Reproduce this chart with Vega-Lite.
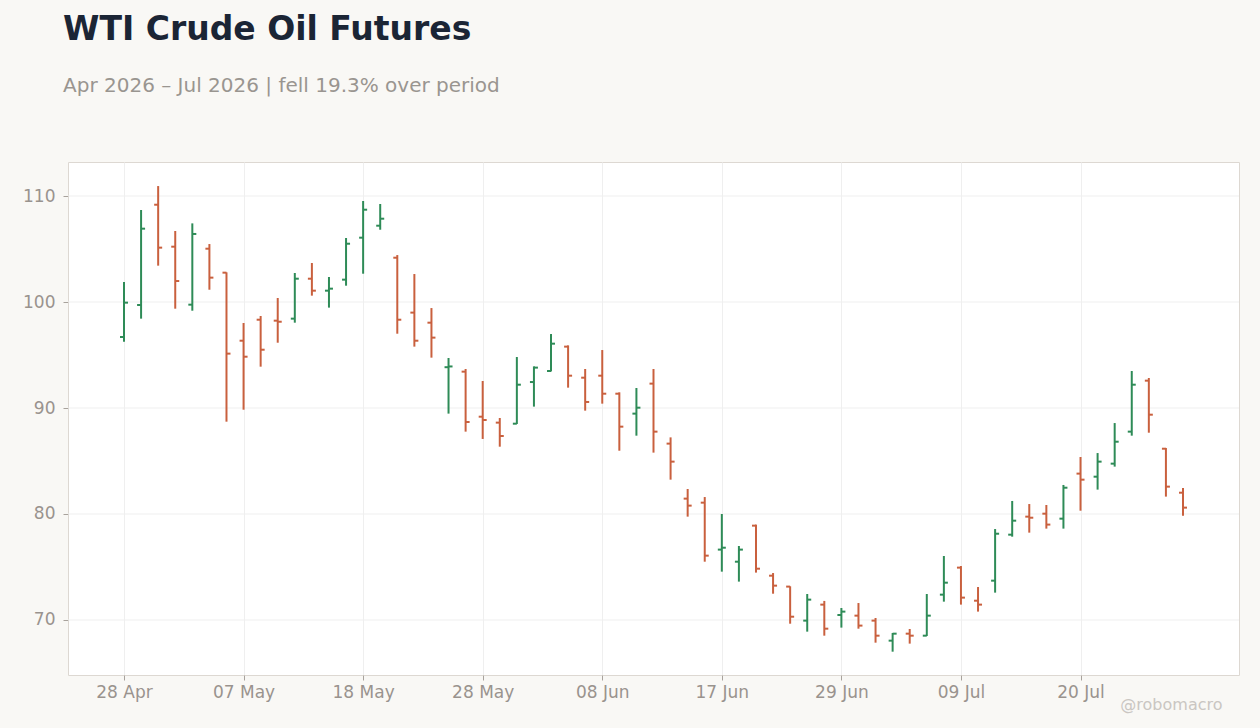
{
  "$schema": "https://vega.github.io/schema/vega-lite/v6.json",
  "width": 1171,
  "height": 513,
  "autosize": {"type": "none"},
  "padding": {"left": 68, "top": 162, "right": 21, "bottom": 53},
  "background": "#f9f8f5",
  "title": {
    "text": "WTI Crude Oil Futures",
    "subtitle": "Apr 2026 – Jul 2026 | fell 19.3% over period",
    "anchor": "start",
    "frame": "group",
    "offset": 66,
    "dx": -5,
    "font": "DejaVu Sans",
    "fontSize": 33,
    "fontWeight": "bold",
    "color": "#1b2535",
    "subtitleFont": "DejaVu Sans",
    "subtitleFontSize": 20,
    "subtitleColor": "#999590",
    "subtitlePadding": 29
  },
  "config": {
    "view": {"fill": "white", "stroke": "#ddd8d2", "strokeWidth": 1},
    "axis": {
      "domain": false,
      "tickColor": "#a8a29c",
      "tickSize": 5,
      "labelColor": "#99938e",
      "labelFont": "DejaVu Sans",
      "labelFontSize": 17,
      "gridColor": "#efefef",
      "gridWidth": 1
    },
    "axisY": {"grid": false}
  },
  "datasets": {
    "ohlc": [
      {"date": "2026-04-28", "open": 96.7, "high": 101.9, "low": 96.26, "close": 99.94},
      {"date": "2026-04-29", "open": 99.72, "high": 108.68, "low": 98.43, "close": 106.92},
      {"date": "2026-04-30", "open": 109.18, "high": 110.94, "low": 103.43, "close": 105.13},
      {"date": "2026-05-01", "open": 105.22, "high": 106.7, "low": 99.37, "close": 101.98},
      {"date": "2026-05-04", "open": 99.75, "high": 107.42, "low": 99.18, "close": 106.42},
      {"date": "2026-05-05", "open": 105.03, "high": 105.47, "low": 101.16, "close": 102.3},
      {"date": "2026-05-06", "open": 102.77, "high": 102.8, "low": 88.71, "close": 95.13},
      {"date": "2026-05-07", "open": 96.35, "high": 98.02, "low": 89.84, "close": 94.84},
      {"date": "2026-05-08", "open": 98.33, "high": 98.68, "low": 93.9, "close": 95.5},
      {"date": "2026-05-11", "open": 98.24, "high": 100.38, "low": 96.16, "close": 98.14},
      {"date": "2026-05-12", "open": 98.43, "high": 102.74, "low": 98.05, "close": 102.2},
      {"date": "2026-05-13", "open": 102.2, "high": 103.68, "low": 100.6, "close": 101.07},
      {"date": "2026-05-14", "open": 101.07, "high": 102.36, "low": 99.47, "close": 101.26},
      {"date": "2026-05-15", "open": 102.11, "high": 106.04, "low": 101.54, "close": 105.5},
      {"date": "2026-05-18", "open": 106.07, "high": 109.53, "low": 102.67, "close": 108.71},
      {"date": "2026-05-19", "open": 107.2, "high": 109.25, "low": 106.82, "close": 107.86},
      {"date": "2026-05-20", "open": 104.18, "high": 104.43, "low": 97.01, "close": 98.33},
      {"date": "2026-05-21", "open": 99.0, "high": 102.64, "low": 95.79, "close": 96.35},
      {"date": "2026-05-22", "open": 98.05, "high": 99.43, "low": 94.75, "close": 96.64},
      {"date": "2026-05-26", "open": 93.85, "high": 94.72, "low": 89.47, "close": 93.92},
      {"date": "2026-05-27", "open": 93.43, "high": 93.68, "low": 87.77, "close": 88.68},
      {"date": "2026-05-28", "open": 89.18, "high": 92.55, "low": 87.08, "close": 88.87},
      {"date": "2026-05-29", "open": 88.62, "high": 89.06, "low": 86.35, "close": 87.36},
      {"date": "2026-06-01", "open": 88.52, "high": 94.81, "low": 88.49, "close": 92.2},
      {"date": "2026-06-02", "open": 92.45, "high": 93.93, "low": 90.13, "close": 93.81},
      {"date": "2026-06-03", "open": 93.49, "high": 96.98, "low": 93.45, "close": 96.07},
      {"date": "2026-06-04", "open": 95.79, "high": 95.91, "low": 91.92, "close": 93.05},
      {"date": "2026-06-05", "open": 92.86, "high": 93.68, "low": 89.75, "close": 90.57},
      {"date": "2026-06-08", "open": 93.05, "high": 95.47, "low": 90.41, "close": 91.35},
      {"date": "2026-06-09", "open": 91.35, "high": 91.48, "low": 85.97, "close": 88.24},
      {"date": "2026-06-10", "open": 89.47, "high": 91.89, "low": 87.39, "close": 90.03},
      {"date": "2026-06-11", "open": 92.3, "high": 93.68, "low": 85.79, "close": 87.77},
      {"date": "2026-06-12", "open": 86.64, "high": 87.23, "low": 83.24, "close": 84.94},
      {"date": "2026-06-15", "open": 81.45, "high": 82.36, "low": 79.75, "close": 80.79},
      {"date": "2026-06-16", "open": 81.07, "high": 81.6, "low": 75.5, "close": 76.07},
      {"date": "2026-06-17", "open": 76.64, "high": 80.0, "low": 74.56, "close": 76.82},
      {"date": "2026-06-18", "open": 75.5, "high": 76.98, "low": 73.62, "close": 76.64},
      {"date": "2026-06-22", "open": 78.9, "high": 79.0, "low": 74.47, "close": 74.84},
      {"date": "2026-06-23", "open": 74.18, "high": 74.43, "low": 72.48, "close": 73.24},
      {"date": "2026-06-24", "open": 73.15, "high": 73.18, "low": 69.65, "close": 70.31},
      {"date": "2026-06-25", "open": 69.94, "high": 72.45, "low": 68.9, "close": 71.92},
      {"date": "2026-06-26", "open": 71.45, "high": 71.8, "low": 68.52, "close": 69.18},
      {"date": "2026-06-29", "open": 70.47, "high": 71.13, "low": 69.28, "close": 70.79},
      {"date": "2026-06-30", "open": 70.41, "high": 71.6, "low": 69.18, "close": 69.47},
      {"date": "2026-07-01", "open": 69.94, "high": 70.19, "low": 67.86, "close": 68.52},
      {"date": "2026-07-02", "open": 68.05, "high": 68.77, "low": 67.01, "close": 68.71},
      {"date": "2026-07-06", "open": 68.71, "high": 69.15, "low": 67.77, "close": 68.52},
      {"date": "2026-07-07", "open": 68.52, "high": 72.45, "low": 68.49, "close": 70.41},
      {"date": "2026-07-08", "open": 72.39, "high": 76.04, "low": 71.73, "close": 73.52},
      {"date": "2026-07-09", "open": 74.94, "high": 75.09, "low": 71.45, "close": 72.11},
      {"date": "2026-07-10", "open": 71.82, "high": 73.11, "low": 70.79, "close": 71.45},
      {"date": "2026-07-13", "open": 73.71, "high": 78.58, "low": 72.58, "close": 78.14},
      {"date": "2026-07-14", "open": 78.05, "high": 81.23, "low": 77.86, "close": 79.37},
      {"date": "2026-07-15", "open": 79.75, "high": 80.94, "low": 78.24, "close": 79.65},
      {"date": "2026-07-16", "open": 80.03, "high": 80.85, "low": 78.62, "close": 79.0},
      {"date": "2026-07-17", "open": 79.56, "high": 82.74, "low": 78.62, "close": 82.48},
      {"date": "2026-07-20", "open": 83.81, "high": 85.38, "low": 80.31, "close": 83.24},
      {"date": "2026-07-21", "open": 83.52, "high": 85.75, "low": 82.3, "close": 84.94},
      {"date": "2026-07-22", "open": 84.75, "high": 88.58, "low": 84.47, "close": 86.82},
      {"date": "2026-07-23", "open": 87.77, "high": 93.49, "low": 87.39, "close": 92.2},
      {"date": "2026-07-24", "open": 92.58, "high": 92.83, "low": 87.67, "close": 89.37},
      {"date": "2026-07-27", "open": 86.16, "high": 86.23, "low": 81.64, "close": 82.58},
      {"date": "2026-07-28", "open": 82.01, "high": 82.45, "low": 79.84, "close": 80.6}
    ],
    "grid": [{"level": 70}, {"level": 80}, {"level": 90}, {"level": 100}, {"level": 110}]
  },
  "layer": [
    {
      "data": {"name": "grid"},
      "mark": {"type": "rule", "color": "#efefef", "strokeWidth": 1},
      "encoding": {
        "y": {
          "field": "level",
          "type": "quantitative",
          "scale": {"domain": [64.81, 113.21], "nice": false, "zero": false},
          "axis": {"values": [70, 80, 90, 100, 110], "title": null, "labelPadding": 8, "grid": false}
        }
      }
    },
    {
      "data": {"name": "ohlc"},
      "encoding": {
        "x": {
          "field": "date",
          "type": "ordinal",
          "scale": {"type": "point", "padding": 0, "range": [56, 1115]},
          "axis": {
            "values": ["2026-04-28", "2026-05-07", "2026-05-18", "2026-05-28", "2026-06-08", "2026-06-17", "2026-06-29", "2026-07-09", "2026-07-20"],
            "labelExpr": "utcFormat(toDate(datum.value), '%d %b')",
            "labelAngle": 0,
            "labelPadding": 4,
            "grid": true,
            "title": "@robomacro",
            "titleX": 1154,
            "titleY": 34,
            "titleAlign": "right",
            "titleAnchor": null,
            "titleBaseline": "alphabetic",
            "titleFont": "DejaVu Sans",
            "titleFontSize": 16,
            "titleFontWeight": "normal",
            "titleColor": "#cac6c2"
          }
        },
        "color": {
          "condition": {"test": "datum.close >= datum.open", "value": "#2e8b57"},
          "value": "#c9603e"
        }
      },
      "layer": [
        {
          "mark": {"type": "rule", "strokeWidth": 2},
          "encoding": {
            "y": {"field": "low", "type": "quantitative"},
            "y2": {"field": "high"}
          }
        },
        {
          "mark": {"type": "tick", "orient": "horizontal", "size": 4, "thickness": 2, "xOffset": -2, "opacity": 1},
          "encoding": {"y": {"field": "open", "type": "quantitative"}}
        },
        {
          "mark": {"type": "tick", "orient": "horizontal", "size": 4, "thickness": 2, "xOffset": 2, "opacity": 1},
          "encoding": {"y": {"field": "close", "type": "quantitative"}}
        }
      ]
    }
  ]
}
